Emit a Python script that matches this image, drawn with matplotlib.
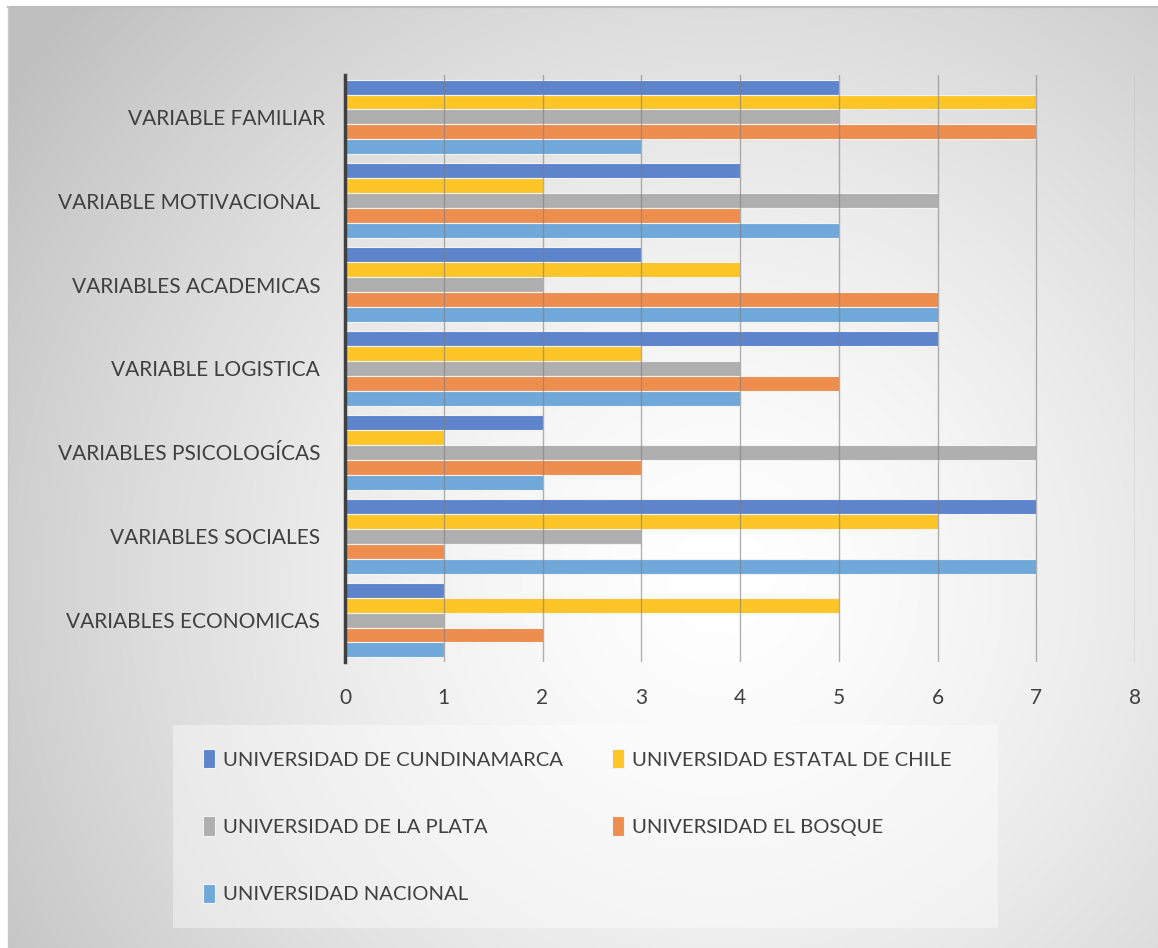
# Horizontal grouped bar chart: variables by university
import matplotlib.pyplot as plt
from matplotlib.patches import Rectangle
import numpy as np

W, H = 1158, 948

# Data (top to bottom)
categories = ['VARIABLE FAMILIAR', 'VARIABLE MOTIVACIONAL ', 'VARIABLES ACADEMICAS ',
              'VARIABLE LOGISTICA ', 'VARIABLES PSICOLOGÍCAS ', 'VARIABLES SOCIALES ',
              'VARIABLES ECONOMICAS ']
series_names = ['UNIVERSIDAD DE CUNDINAMARCA', 'UNIVERSIDAD ESTATAL DE CHILE',
                'UNIVERSIDAD DE LA PLATA', 'UNIVERSIDAD EL BOSQUE', 'UNIVERSIDAD NACIONAL']
cundinamarca = [5, 4, 3, 6, 2, 7, 1]
chile = [7, 2, 4, 3, 1, 6, 5]
la_plata = [5, 6, 2, 4, 7, 3, 1]
el_bosque = [7, 4, 6, 5, 3, 1, 2]
nacional = [3, 5, 6, 4, 2, 7, 1]
x_ticks = [0, 1, 2, 3, 4, 5, 6, 7, 8]

series = [cundinamarca, chile, la_plata, el_bosque, nacional]
colors = ['#5E84CC', '#FDC626', '#AFAFAF', '#EE8E4E', '#70A8DA']

plt.rcParams['font.family'] = ['Lato', 'DejaVu Sans']
text_color = '#404040'

fig = plt.figure(figsize=(W / 100, H / 100), dpi=100)
fig.patch.set_facecolor('white')

# radial gradient background
bx0, by_top = 8 / W, 7 / H
bg = fig.add_axes([bx0, 0, 1 - bx0, 1 - by_top])
yy, xx = np.mgrid[7:H, 8:W]
r = np.hypot(xx - 720, yy - 580) / 820
shade = 1 - 0.23 * np.clip(r, 0, 1.3) ** 1.5
shade = np.clip(shade, 0.75, 1)
bg.imshow(np.dstack([shade] * 3), aspect='auto', extent=(0, 1, 0, 1), origin='upper')
bg.set_xlim(0, 1)
bg.set_ylim(0, 1)
bg.axis('off')
fig.add_artist(plt.Line2D([bx0, 1], [1 - by_top, 1 - by_top], color='#bdbdbd', lw=1.5))
fig.add_artist(plt.Line2D([bx0, bx0], [0, 1 - by_top], color='#c8c8c8', lw=1))

# legend box
fig.add_artist(Rectangle((173 / W, 1 - 928 / H), 825 / W, 203 / H,
                         facecolor='white', alpha=0.4, edgecolor='none'))

ax = fig.add_axes([345 / W, 1 - 662 / H, 790 / W, 587 / H])
ax.patch.set_alpha(0)

y = np.arange(len(categories))
h = 0.178
handles = []
for k, (vals, c, name) in enumerate(zip(series, colors, series_names)):
    b = ax.barh(y + (k - 2) * h, vals, height=h, color=c, edgecolor='#f3f3f3',
                linewidth=0.8, label=name, zorder=2)
    handles.append(b)

ax.set_xlim(0, 8)
ax.set_ylim(len(categories) - 0.5, -0.5)
ax.set_xticks(x_ticks)
ax.set_yticks(y)
ax.set_yticklabels(categories)
ax.grid(axis='x', color='#7f7f7f', linewidth=1, alpha=0.6, zorder=3)
ax.set_axisbelow(False)
for s in ['top', 'right', 'bottom']:
    ax.spines[s].set_visible(False)
ax.spines['left'].set_color('#404040')
ax.spines['left'].set_linewidth(2.5)
ax.spines['left'].set_zorder(4)
ax.tick_params(axis='x', length=0, pad=19, labelsize=15, labelcolor=text_color)
ax.tick_params(axis='y', length=0, pad=14, labelsize=15, labelcolor=text_color)

# legend, row-major order
order = [0, 2, 4, 1, 3]
fig.legend([handles[i] for i in order], [series_names[i] for i in order],
           loc='upper left', bbox_to_anchor=(203 / W, 1 - 749 / H), ncol=2,
           frameon=False, fontsize=14.6, labelcolor=text_color,
           handlelength=0.6, handleheight=1.1, handletextpad=0.4,
           labelspacing=2.35, columnspacing=2.4, borderaxespad=0, borderpad=0)

fig.savefig('out.png', dpi=100)
